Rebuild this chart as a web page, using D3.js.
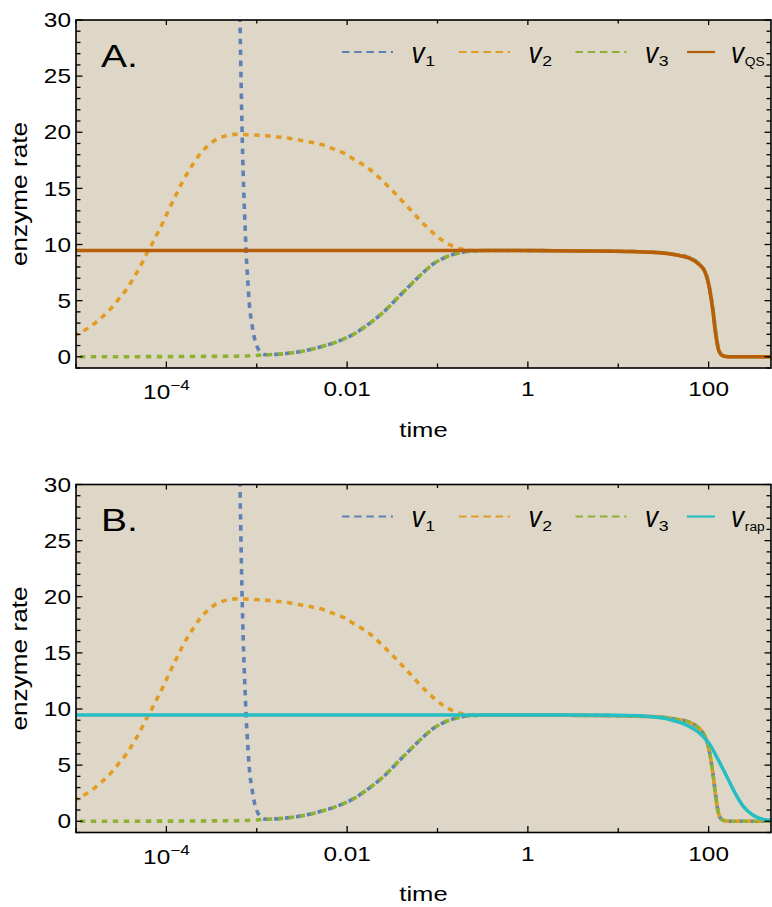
<!DOCTYPE html>
<html>
<head>
<meta charset="utf-8">
<script src="https://cdn.jsdelivr.net/npm/d3@7"></script>
<style>
  body { margin: 0; background: #ffffff; }
  svg { display: block; }
</style>
</head>
<body>
<script>
// ---- data: [time, rate] ----------------------------------------------------
// v1 before it falls onto the v3 curve (first point lies above the plotted range)
const v1Early = [
  [6.03e-4, 48], [6.52e-4, 30], [6.98e-4, 18.1], [7.16e-4, 15.0], [7.40e-4, 12.0],
  [7.66e-4, 9.0], [7.93e-4, 7.0], [8.20e-4, 5.1], [8.41e-4, 4.1], [8.79e-4, 3.1],
  [9.14e-4, 2.2], [9.73e-4, 1.25], [1.11e-3, 0.39]
];
// v2 rise and decay before it merges with the plateau
const v2Early = [
  [1.0e-5, 1.95], [1.35e-5, 2.53], [1.66e-5, 3.07], [2.06e-5, 3.72], [2.50e-5, 4.40],
  [3.01e-5, 5.2], [3.57e-5, 5.94], [4.16e-5, 6.77], [4.82e-5, 7.64], [5.47e-5, 8.47],
  [6.21e-5, 9.36], [7.16e-5, 10.25], [8.13e-5, 11.14], [9.25e-5, 12.03], [1.04e-4, 12.92],
  [1.17e-4, 13.8], [1.33e-4, 14.7], [1.51e-4, 15.6], [1.73e-4, 16.43], [2.00e-4, 17.24],
  [2.36e-4, 18.07], [2.86e-4, 18.78], [3.60e-4, 19.37], [4.65e-4, 19.7], [6.15e-4, 19.82],
  [7.93e-4, 19.78], [1.05e-3, 19.73], [1.37e-3, 19.67], [1.84e-3, 19.55], [2.41e-3, 19.43],
  [3.22e-3, 19.25], [4.22e-3, 19.07], [5.53e-3, 18.84], [7.19e-3, 18.48], [9.29e-3, 18.13],
  [1.22e-2, 17.53], [1.58e-2, 17.0], [2.01e-2, 16.35], [2.47e-2, 15.66], [3.03e-2, 14.95],
  [3.67e-2, 14.26], [4.47e-2, 13.52], [5.38e-2, 12.83], [6.50e-2, 12.12], [7.98e-2, 11.41],
  [9.77e-2, 10.76], [0.124, 10.16], [0.160, 9.75], [0.210, 9.51], [0.282, 9.45]
];
// v3 growth before the plateau (v1 follows it from 1.26e-3 on)
const v3Early = [
  [1.0e-5, 0.0], [6.6e-5, 0.01], [2.34e-4, 0.03], [6.98e-4, 0.06], [9.79e-4, 0.12],
  [1.26e-3, 0.18], [1.94e-3, 0.26], [2.51e-3, 0.36], [3.22e-3, 0.5], [4.22e-3, 0.7],
  [5.36e-3, 0.93], [7.02e-3, 1.22], [1.17e-2, 2.0], [1.79e-2, 3.0], [2.62e-2, 4.1],
  [3.67e-2, 5.3], [4.95e-2, 6.35], [6.67e-2, 7.37], [8.95e-2, 8.26], [0.126, 8.91],
  [0.177, 9.27], [0.248, 9.42]
];
// plateau and final drop shared by v1, v2 and v3
const fullTail = [
  [0.35, 9.47], [1, 9.46], [4, 9.43], [14.6, 9.37], [28.8, 9.28], [44.2, 9.08],
  [61.9, 8.8], [80.0, 8.2], [90.8, 7.6], [98.6, 6.75], [105.7, 5.5], [112.2, 4.1],
  [119.1, 2.4], [127.4, 0.85], [139.0, 0.18], [154.9, 0.03], [177.8, 0.0], [490, 0.0]
];
// quasi-steady-state rate
const vQS = [
  [1.0e-5, 9.47], [1, 9.46], [4, 9.43], [14.6, 9.37], [28.8, 9.27], [44.2, 9.06],
  [61.9, 8.77], [80.0, 8.17], [90.8, 7.58], [98.6, 6.68], [105.7, 5.35], [112.2, 3.87],
  [119.1, 2.09], [127.4, 0.75], [139.0, 0.15], [154.9, 0.02], [177.8, 0.0], [490, 0.0]
];
// rapid-equilibrium rate
const vRap = [
  [1.0e-5, 9.47], [3, 9.47], [10, 9.44], [18.9, 9.37], [37.2, 9.07], [57.0, 8.57],
  [80.0, 7.83], [103, 6.85], [127, 5.51], [158, 4.03], [195, 2.55], [241, 1.35],
  [311, 0.53], [401, 0.17], [490, 0.08]
];

const xTicks      = [1e-5, 1e-4, 1e-3, 1e-2, 1e-1, 1, 10, 100];
const xTickBase   = ["",   "10", "",   "0.01", "", "1", "", "100"];
const xTickExp    = ["",   "−4", "",   "",     "", "",  "", ""];
const yMajorTicks = [0, 5, 10, 15, 20, 25, 30];
const yMinorTicks = d3.range(-1, 31);
const panelLetters = ["A.", "B."];
const seriesNames  = ["1", "2", "3"];

// ---- layout ----------------------------------------------------------------
const W = 772, H = 907;
const left = 76, right = 771, plotH = 348;
const panelTops = [20, 484.5];
const SX = 1.22;            // glyph widening along the text direction
const FONT = "'Liberation Sans', Arial, Helvetica, sans-serif";
const BG = "#ded7c7";
const C1 = "#5e81b5", C2 = "#e19c24", C3 = "#8fb032", CQS = "#b95e08", CRAP = "#26bec3";

const svg = d3.select("body").append("svg").attr("width", W).attr("height", H);

const x = d3.scaleLog().domain([1e-5, 490]).range([left, right]);

function stext(parent, px, py, rot, sx) {
  const k = sx === undefined ? SX : sx;
  const g = parent.append("g")
    .attr("transform", `translate(${px},${py})` + (rot ? ` rotate(${rot})` : "") + ` scale(${k},1)`);
  return g.append("text").attr("font-family", FONT).attr("fill", "#000");
}

const v1Full = v1Early.concat(v3Early.filter(d => d[0] >= 1.26e-3), fullTail);
const v2Full = v2Early.concat(fullTail);
const v3Full = v3Early.concat(fullTail);

function drawPanel(idx) {
  const top = panelTops[idx], bottom = top + plotH;
  const y = d3.scaleLinear().domain([-1, 30]).range([bottom, top]);
  const g = svg.append("g");

  g.append("rect").attr("x", left).attr("y", top)
    .attr("width", right - left).attr("height", plotH).attr("fill", BG);

  const clipId = "clip" + idx;
  g.append("clipPath").attr("id", clipId).append("rect")
    .attr("x", left).attr("y", top).attr("width", right - left).attr("height", plotH);
  const plot = g.append("g").attr("clip-path", `url(#${clipId})`);

  const line = d3.line().x(d => x(d[0])).y(d => y(d[1])).curve(d3.curveMonotoneX);

  // dashed full-model curves; dash phase anchored at the curve end so the
  // merged portions interleave their colours
  const P = 11, dash = "5.5,5.5";
  [[v1Full, C1, 0], [v2Full, C2, P / 3], [v3Full, C3, 2 * P / 3]].forEach(([data, col, shift]) => {
    const p = plot.append("path").datum(data).attr("d", line)
      .attr("fill", "none").attr("stroke", col).attr("stroke-width", 3.6)
      .attr("stroke-dasharray", dash);
    const L = p.node().getTotalLength();
    p.attr("stroke-dashoffset", (((shift - L) % P) + P) % P);
  });

  const approx = idx === 0 ? vQS : vRap;
  const approxCol = idx === 0 ? CQS : CRAP;
  plot.append("path").datum(approx).attr("d", line)
    .attr("fill", "none").attr("stroke", approxCol).attr("stroke-width", 3.5)
    .attr("stroke-linejoin", "round");

  // legend
  const legY = top + 32, labY = top + 42.5;
  const legend = g.append("g");
  const items = [
    { col: C1, dashed: true, sub: seriesNames[0], x0: 342 },
    { col: C2, dashed: true, sub: seriesNames[1], x0: 459 },
    { col: C3, dashed: true, sub: seriesNames[2], x0: 575.5 },
    { col: approxCol, dashed: false, sub: idx === 0 ? "QS" : "rap", x0: 687 }
  ];
  items.forEach(it => {
    const x0 = it.x0;
    const x1 = it.dashed ? x0 + 51 : x0 + 28;
    legend.append("line").attr("x1", x0).attr("x2", x1).attr("y1", legY).attr("y2", legY)
      .attr("stroke", it.col).attr("stroke-width", 2.2)
      .attr("stroke-dasharray", it.dashed ? "7.5,4.7" : null);
    const lx = it.dashed ? x0 + 69.5 : x0 + 44;
    stext(legend, lx, labY, 0, 0.9).attr("font-size", 29).attr("font-style", "italic").text("v");
    const subX = lx + 13.8;
    stext(legend, subX, labY + 3.5, 0, it.dashed ? SX : 1.02)
      .attr("font-size", it.dashed ? 14.5 : 13.5).text(it.sub);
  });

  // frame
  g.append("rect").attr("x", left).attr("y", top)
    .attr("width", right - left).attr("height", plotH)
    .attr("fill", "none").attr("stroke", "#000").attr("stroke-width", 1.6);

  // y ticks (inward, both sides)
  yMinorTicks.forEach(v => {
    const major = yMajorTicks.includes(v);
    const len = major ? 6.5 : 4.5;
    const yy = y(v);
    g.append("line").attr("x1", left).attr("x2", left + len).attr("y1", yy).attr("y2", yy)
      .attr("stroke", "#000").attr("stroke-width", 1.3);
    g.append("line").attr("x1", right - len).attr("x2", right).attr("y1", yy).attr("y2", yy)
      .attr("stroke", "#000").attr("stroke-width", 1.3);
  });
  yMajorTicks.forEach(v => {
    stext(g, 71, y(v) + 7.2).attr("font-size", 20).attr("text-anchor", "end").text(v);
  });

  // x ticks (inward, bottom and top)
  xTicks.forEach((t, i) => {
    const xx = x(t);
    const labelled = xTickBase[i] !== "";
    const lb = labelled ? 6.5 : 4.5, lt = labelled ? 5 : 3.5;
    g.append("line").attr("x1", xx).attr("x2", xx).attr("y1", bottom).attr("y2", bottom - lb)
      .attr("stroke", "#000").attr("stroke-width", 1.3);
    g.append("line").attr("x1", xx).attr("x2", xx).attr("y1", top).attr("y2", top + lt)
      .attr("stroke", "#000").attr("stroke-width", 1.3);
    if (labelled) {
      const hasExp = xTickExp[i] !== "";
      const tx = stext(g, xx, bottom + (hasExp ? 31 : 28)).attr("text-anchor", "middle");
      tx.append("tspan").attr("font-size", 20).text(xTickBase[i]);
      if (hasExp) tx.append("tspan").attr("font-size", 14).attr("dy", -9).text(xTickExp[i]);
    }
  });

  // titles
  stext(g, (left + right) / 2, bottom + 68.5).attr("font-size", 21)
    .attr("text-anchor", "middle").text("time");
  stext(g, 27, top + plotH / 2, -90).attr("font-size", 21.5)
    .attr("text-anchor", "middle").text("enzyme rate");
  stext(g, 101, top + 46.5).attr("font-size", 32).text(panelLetters[idx]);
}

drawPanel(0);
drawPanel(1);
</script>
</body>
</html>
